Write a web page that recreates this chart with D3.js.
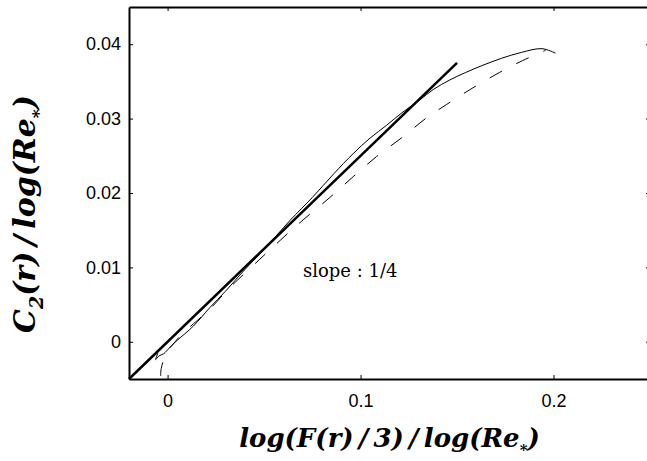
<!DOCTYPE html>
<html>
<head>
<meta charset="utf-8">
<script src="https://cdn.jsdelivr.net/npm/d3@7"></script>
<style>
  body { margin: 0; background: #fff; }
  svg { display: block; }
</style>
</head>
<body>
<svg width="647" height="461"></svg>
<script>
// ticks
const xTicks = [0, 0.1, 0.2];
const yTicks = [0, 0.01, 0.02, 0.03, 0.04];

// slope 1/4 reference line
const fitLine = [[-0.02, -0.005], [0.15, 0.0375]];

// solid curve
const solidCurve = [
  [-0.0050, -0.0015], [-0.0062, -0.0024], [-0.0045, -0.0019], [-0.0020, -0.0016],
  [0.0010, -0.0008], [0.0050, 0.0002], [0.0133, 0.0021], [0.0219, 0.0046],
  [0.0300, 0.0068], [0.0400, 0.0097], [0.0500, 0.0124], [0.0634, 0.0163],
  [0.0750, 0.0194], [0.0862, 0.0226], [0.0962, 0.0253], [0.1050, 0.0274],
  [0.1135, 0.0291], [0.1215, 0.0308], [0.1307, 0.0325], [0.1376, 0.0339],
  [0.1463, 0.0352], [0.1545, 0.0362], [0.1627, 0.0371], [0.1730, 0.0381],
  [0.1834, 0.0389], [0.1940, 0.0394], [0.2010, 0.0388]
];

// dashed curve
const dashedCurve = [
  [-0.0036, -0.0046], [-0.0033, -0.0036], [-0.0005, -0.0014], [0.0029, -0.0003],
  [0.0080, 0.0012], [0.0133, 0.0024], [0.0219, 0.0044], [0.0323, 0.0073],
  [0.0478, 0.0111], [0.0599, 0.0140], [0.0703, 0.0164], [0.0841, 0.0194],
  [0.0962, 0.0222], [0.1083, 0.0249], [0.1212, 0.0274], [0.1342, 0.0301],
  [0.1446, 0.0319], [0.1580, 0.0341], [0.1720, 0.0362], [0.1840, 0.0378],
  [0.1960, 0.0392]
];

const svg = d3.select("svg");
const mLeft = 129, mRight = 650, mTop = 7, mBottom = 379;

const x = d3.scaleLinear().domain([-0.02, 0.25]).range([mLeft, mRight]);
const y = d3.scaleLinear().domain([-0.005, 0.045]).range([mBottom, mTop]);

const tickFont = "'Liberation Sans', Arial, sans-serif";
const labelFont = "'DejaVu Serif', serif";

// axes (ticks inward)
const gB = svg.append("g").attr("transform", `translate(0,${mBottom})`)
  .call(d3.axisBottom(x).tickValues(xTicks).tickSizeInner(-4).tickSizeOuter(0).tickPadding(15)
    .tickFormat(d3.format("")));
const gT = svg.append("g").attr("transform", `translate(0,${mTop})`)
  .call(d3.axisTop(x).tickValues(xTicks).tickSizeInner(-4).tickSizeOuter(0).tickFormat(""));
const gL = svg.append("g").attr("transform", `translate(${mLeft},0)`)
  .call(d3.axisLeft(y).tickValues(yTicks).tickSizeInner(-4).tickSizeOuter(0).tickPadding(8)
    .tickFormat(d3.format("")));
const gR = svg.append("g").attr("transform", `translate(${mRight},0)`)
  .call(d3.axisRight(y).tickValues(yTicks).tickSizeInner(-4).tickSizeOuter(0).tickFormat(""));

[gB, gT, gL, gR].forEach(g => {
  g.attr("font-size", null).attr("font-family", null);
  g.select(".domain").attr("stroke", "#000").attr("stroke-width", 2);
  g.selectAll(".tick line").attr("stroke", "#000").attr("stroke-width", 1);
  g.selectAll(".tick text").attr("fill", "#000")
    .style("font-family", tickFont).style("font-size", "18px");
});

const line = d3.line().x(d => x(d[0])).y(d => y(d[1])).curve(d3.curveCatmullRom.alpha(0.5));

svg.append("path").attr("d", line(dashedCurve))
  .attr("fill", "none").attr("stroke", "#000").attr("stroke-width", 1)
  .attr("stroke-dasharray", "14,16");

svg.append("path").attr("d", line(solidCurve))
  .attr("fill", "none").attr("stroke", "#000").attr("stroke-width", 1);

svg.append("path").attr("d", d3.line().x(d => x(d[0])).y(d => y(d[1]))(fitLine))
  .attr("fill", "none").attr("stroke", "#000").attr("stroke-width", 2.5);

// annotation
svg.append("text").attr("x", 303).attr("y", 277)
  .style("font-family", labelFont).style("font-size", "18px")
  .text("slope : 1/4");

// x label
const xl = svg.append("text").attr("x", (mLeft + mRight) / 2).attr("y", 447)
  .attr("text-anchor", "middle")
  .style("font-family", labelFont).style("font-size", "26px")
  .style("font-style", "italic").style("font-weight", "bold");
xl.append("tspan").text("log(F(r)\u2009/\u20093)\u2009/\u2009log(Re");
xl.append("tspan").attr("dy", 8).style("font-size", "15px").text("*");
xl.append("tspan").attr("dy", -8).text(")");

// y label
const yl = svg.append("text")
  .attr("transform", "translate(35,214) rotate(-90)")
  .attr("text-anchor", "middle")
  .style("font-family", labelFont).style("font-size", "30px")
  .style("font-style", "italic").style("font-weight", "bold");
yl.append("tspan").text("C");
yl.append("tspan").attr("dy", 8).style("font-size", "19px").text("2");
yl.append("tspan").attr("dy", -8).text("(r)\u2009/\u2009log(Re");
yl.append("tspan").attr("dy", 9).style("font-size", "17px").text("*");
yl.append("tspan").attr("dy", -9).text(")");
</script>
</body>
</html>
